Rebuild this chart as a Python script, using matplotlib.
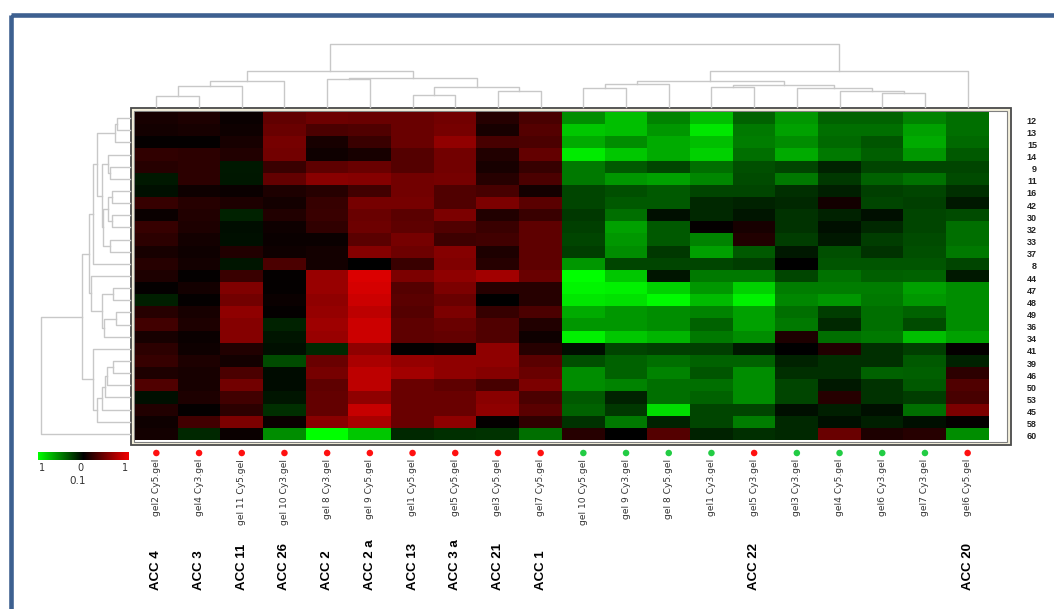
import numpy as np
import matplotlib
matplotlib.use("Agg")
import matplotlib.pyplot as plt
from matplotlib.colors import LinearSegmentedColormap
from matplotlib.patches import Rectangle

# Row (protein spot) labels, top to bottom
row_labels = ['12', '13', '15', '14', '9', '11', '16', '42', '30', '32', '33', '37', '8',
              '44', '47', '48', '49', '36', '34', '41', '39', '46', '50', '53', '45', '58', '60']

# Column (gel) labels, left to right
col_labels = ['gel2 Cy5.gel', 'gel4 Cy3.gel', 'gel 11 Cy5.gel', 'gel 10 Cy3.gel', 'gel 8 Cy3.gel',
              'gel 9 Cy5.gel', 'gel1 Cy5.gel', 'gel5 Cy5.gel', 'gel3 Cy5.gel', 'gel7 Cy5.gel',
              'gel 10 Cy5.gel', 'gel 9 Cy3.gel', 'gel 8 Cy5.gel', 'gel1 Cy3.gel', 'gel5 Cy3.gel',
              'gel3 Cy3.gel', 'gel4 Cy5.gel', 'gel6 Cy3.gel', 'gel7 Cy3.gel', 'gel6 Cy5.gel']

# Group marker of each column: 1 = red, 0 = green
col_group = [1, 1, 1, 1, 1, 1, 1, 1, 1, 1, 0, 0, 0, 0, 1, 0, 0, 0, 0, 1]

# Accession names under the columns ('' = none)
acc_labels = ['ACC 4', 'ACC 3', 'ACC 11', 'ACC 26', 'ACC 2', 'ACC 2 a', 'ACC 13', 'ACC 3 a',
              'ACC 21', 'ACC 1', '', '', '', '', 'ACC 22', '', '', '', '', 'ACC 20']

# Expression values (-1 green ... 0 black ... 1 red)
values = [
    [0.10, 0.12, 0.04, 0.40, 0.45, 0.43, 0.43, 0.47, 0.15, 0.30, -0.55, -0.75, -0.51, -0.75, -0.39, -0.59, -0.39, -0.39, -0.51, -0.43],
    [0.08, 0.10, 0.06, 0.43, 0.31, 0.33, 0.43, 0.49, 0.10, 0.35, -0.78, -0.75, -0.59, -0.90, -0.47, -0.63, -0.43, -0.43, -0.63, -0.43],
    [0.02, 0.02, 0.10, 0.49, 0.10, 0.24, 0.43, 0.60, 0.29, 0.31, -0.67, -0.55, -0.67, -0.75, -0.49, -0.55, -0.41, -0.33, -0.67, -0.41],
    [0.20, 0.18, 0.14, 0.47, 0.06, 0.10, 0.35, 0.47, 0.14, 0.41, -0.92, -0.78, -0.67, -0.82, -0.43, -0.67, -0.47, -0.37, -0.59, -0.35],
    [0.16, 0.18, -0.10, 0.24, 0.39, 0.43, 0.35, 0.47, 0.10, 0.22, -0.47, -0.35, -0.27, -0.43, -0.31, -0.27, -0.14, -0.27, -0.27, -0.27],
    [-0.10, 0.18, -0.09, 0.41, 0.57, 0.55, 0.47, 0.49, 0.16, 0.31, -0.47, -0.59, -0.63, -0.53, -0.29, -0.47, -0.22, -0.39, -0.45, -0.29],
    [-0.06, 0.06, 0.04, 0.12, 0.16, 0.27, 0.47, 0.33, 0.29, 0.08, -0.27, -0.31, -0.35, -0.27, -0.27, -0.18, -0.12, -0.25, -0.27, -0.18],
    [0.22, 0.16, 0.12, 0.08, 0.22, 0.49, 0.49, 0.33, 0.51, 0.37, -0.27, -0.35, -0.35, -0.16, -0.14, -0.16, 0.08, -0.27, -0.25, -0.10],
    [0.04, 0.14, -0.14, 0.14, 0.24, 0.43, 0.37, 0.51, 0.14, 0.24, -0.22, -0.43, -0.06, -0.16, -0.08, -0.20, -0.14, -0.06, -0.27, -0.29],
    [0.22, 0.12, -0.05, 0.06, 0.20, 0.45, 0.39, 0.33, 0.24, 0.39, -0.25, -0.63, -0.35, 0.02, 0.10, -0.20, -0.06, -0.16, -0.27, -0.43],
    [0.18, 0.08, -0.06, 0.04, 0.04, 0.37, 0.49, 0.25, 0.27, 0.39, -0.27, -0.59, -0.35, -0.51, 0.14, -0.24, -0.10, -0.24, -0.29, -0.43],
    [0.10, 0.06, 0.14, 0.06, 0.08, 0.55, 0.45, 0.55, 0.12, 0.39, -0.24, -0.55, -0.22, -0.63, -0.35, -0.10, -0.31, -0.20, -0.31, -0.47],
    [0.16, 0.08, -0.08, 0.31, 0.08, 0.00, 0.24, 0.53, 0.16, 0.39, -0.59, -0.27, -0.27, -0.27, -0.24, 0.00, -0.33, -0.33, -0.33, -0.27],
    [0.12, 0.02, 0.24, 0.02, 0.63, 0.90, 0.51, 0.59, 0.67, 0.43, -1.00, -0.78, -0.08, -0.47, -0.47, -0.27, -0.45, -0.37, -0.39, -0.10],
    [0.02, 0.08, 0.53, 0.02, 0.63, 0.88, 0.35, 0.51, 0.16, 0.16, -0.96, -0.94, -0.82, -0.59, -0.82, -0.49, -0.49, -0.49, -0.63, -0.55],
    [-0.12, 0.02, 0.47, 0.04, 0.59, 0.84, 0.37, 0.43, 0.00, 0.16, -0.90, -0.88, -0.98, -0.73, -0.94, -0.53, -0.59, -0.47, -0.59, -0.55],
    [0.16, 0.10, 0.59, 0.02, 0.61, 0.78, 0.35, 0.51, 0.22, 0.31, -0.67, -0.59, -0.55, -0.51, -0.63, -0.43, -0.24, -0.43, -0.39, -0.55],
    [0.27, 0.12, 0.55, -0.14, 0.65, 0.84, 0.39, 0.43, 0.33, 0.14, -0.59, -0.59, -0.55, -0.39, -0.63, -0.47, -0.16, -0.43, -0.29, -0.55],
    [0.10, 0.04, 0.55, -0.08, 0.63, 0.84, 0.39, 0.41, 0.33, 0.06, -0.94, -0.78, -0.71, -0.47, -0.55, 0.12, -0.43, -0.47, -0.75, -0.63],
    [0.18, 0.06, 0.14, -0.06, -0.16, 0.59, 0.02, 0.04, 0.59, 0.16, -0.06, -0.27, -0.25, -0.25, -0.10, 0.00, 0.14, -0.18, -0.25, 0.02],
    [0.22, 0.12, 0.08, -0.29, 0.43, 0.70, 0.61, 0.59, 0.59, 0.37, -0.31, -0.39, -0.43, -0.39, -0.39, -0.14, -0.18, -0.18, -0.35, -0.14],
    [0.12, 0.10, 0.31, -0.04, 0.49, 0.78, 0.67, 0.59, 0.55, 0.43, -0.55, -0.39, -0.51, -0.33, -0.55, -0.18, -0.18, -0.39, -0.37, 0.18],
    [0.33, 0.10, 0.47, -0.04, 0.39, 0.78, 0.43, 0.39, 0.29, 0.51, -0.55, -0.51, -0.43, -0.43, -0.55, -0.27, -0.10, -0.20, -0.35, 0.33],
    [-0.06, 0.12, 0.27, -0.08, 0.41, 0.59, 0.43, 0.43, 0.57, 0.31, -0.35, -0.14, -0.43, -0.39, -0.55, -0.27, 0.16, -0.20, -0.24, 0.29],
    [0.14, 0.02, 0.18, -0.18, 0.41, 0.82, 0.43, 0.43, 0.59, 0.37, -0.39, -0.22, -0.86, -0.27, -0.27, -0.06, -0.12, -0.06, -0.43, 0.51],
    [0.06, 0.27, 0.51, 0.04, 0.57, 0.69, 0.43, 0.59, 0.02, 0.20, -0.20, -0.47, -0.14, -0.27, -0.49, -0.16, -0.06, -0.12, -0.06, 0.02],
    [0.08, -0.16, 0.04, -0.55, -1.00, -0.78, -0.16, -0.18, -0.20, -0.43, 0.16, 0.00, 0.35, -0.14, -0.18, -0.16, 0.43, 0.12, 0.16, -0.55],
]

# Column tree: (child a, child b, merge height); leaves 0..19, new nodes from 20
col_merges = [(0, 1, 11), (20, 2, 21), (21, 3, 26), (6, 7, 12), (8, 9, 16), (23, 24, 20),
              (4, 5, 28), (26, 25, 29), (22, 27, 36), (10, 11, 19), (29, 12, 23), (17, 18, 14),
              (16, 31, 16), (15, 32, 19), (13, 14, 20), (34, 33, 22), (30, 35, 26), (36, 19, 36),
              (28, 37, 63)]

# Row tree: leaves 0..26, new nodes from 27
row_merges = [(0, 1, 13), (27, 2, 15), (4, 5, 20), (3, 29, 22), (6, 7, 18), (8, 9, 18),
              (31, 32, 22), (10, 11, 20), (33, 34, 27), (30, 35, 28), (28, 36, 33), (37, 12, 37),
              (14, 15, 17), (16, 17, 14), (40, 18, 26), (39, 41, 28), (13, 42, 39), (38, 43, 41),
              (20, 21, 17), (45, 22, 23), (46, 23, 25), (47, 24, 28), (48, 25, 33), (19, 49, 37),
              (44, 50, 48), (51, 26, 89)]

data = np.array(values)
n_rows, n_cols = data.shape

fig = plt.figure(figsize=(10.54, 6.09), dpi=100)
ax = fig.add_axes([0, 0, 1, 1])
ax.set_xlim(0, 1054)
ax.set_ylim(609, 0)
ax.axis('off')

# heatmap area (pixel layout)
hx0, hx1, hy0, hy1 = 135, 989, 112, 440
cw = (hx1 - hx0) / n_cols
rh = (hy1 - hy0) / n_rows
col_x = hx0 + cw * (np.arange(n_cols) + 0.5)
row_y = hy0 + rh * (np.arange(n_rows) + 0.5)

cmap = LinearSegmentedColormap.from_list('gkr', [(0, 1, 0), (0, 0, 0), (0.95, 0, 0)])

# frame
ax.add_patch(Rectangle((130.5, 107.5), 880.5, 337, facecolor='#f3efdb', edgecolor='#4a4a4a', lw=1.3, zorder=1))
ax.add_patch(Rectangle((134, 111), 873, 330.5, facecolor='white', edgecolor='#808080', lw=0.8, zorder=2))
ax.imshow(data, cmap=cmap, vmin=-1, vmax=1, extent=[hx0, hx1, hy1, hy0],
          aspect='auto', interpolation='nearest', zorder=3)


def draw_tree(merges, leaf_pos, base, vertical):
    pos = list(leaf_pos)
    hgt = [0.0] * len(leaf_pos)
    for a, b, h in merges:
        pa, pb = pos[a], pos[b]
        ha, hb = hgt[a], hgt[b]
        s = [pa, pa, pb, pb]
        d = [base - ha, base - h, base - h, base - hb]
        if vertical:
            ax.plot(s, d, color='#c8c8c8', lw=1.0, zorder=4)
        else:
            ax.plot(d, s, color='#c8c8c8', lw=1.0, zorder=4)
        pos.append((pa + pb) / 2)
        hgt.append(h)


draw_tree(col_merges, col_x, 107, True)
draw_tree(row_merges, row_y, 130, False)

# row labels
for y, lab in zip(row_y, row_labels):
    ax.text(1037, y + 3, lab, ha='right', va='center', fontsize=6.5, fontweight='bold',
            color='#222222', family='Liberation Sans')

# group dots, gel labels, accession labels
dot_colors = ['#ff1010' if g else '#22cc44' for g in col_group]
ax.scatter(col_x, [453] * n_cols, s=22, c=dot_colors, zorder=5, linewidths=0)
for x, lab, acc in zip(col_x, col_labels, acc_labels):
    ax.text(x, 459, lab, rotation=90, ha='center', va='top', fontsize=6.6, color='#333333')
    if acc:
        ax.text(x, 590, acc, rotation=90, ha='center', va='bottom', fontsize=9.5,
                fontweight='bold', family='Liberation Sans', color='black')

# colour key
grad = np.linspace(-1, 1, 256).reshape(1, -1)
ax.imshow(grad, cmap=cmap, vmin=-1, vmax=1, extent=[38, 129, 460, 452], aspect='auto', zorder=3)
for x, t in zip([42, 80, 125], ['1', '0', '1']):
    ax.text(x, 468, t, ha='center', va='center', fontsize=7, color='#333333')
ax.text(78, 481, '0.1', ha='center', va='center', fontsize=7.5, color='#333333')

# blue slide border
ax.add_patch(Rectangle((10.5, 15), 2000, 2000, fill=False, edgecolor='#3d6090', lw=3.3, zorder=6))

fig.savefig('out.png', dpi=100)
